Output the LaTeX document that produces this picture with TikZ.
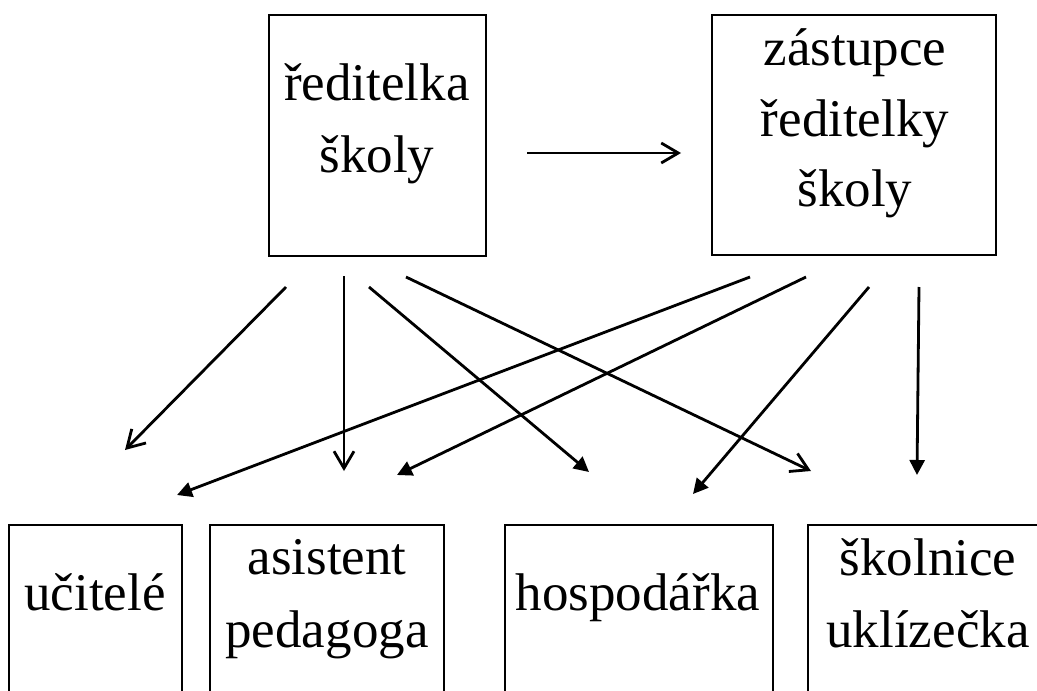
\documentclass[tikz,border=0pt]{standalone}
\usepackage{fontspec}
\setmainfont{Liberation Serif}
\usetikzlibrary{arrows.meta}
\begin{document}
\begin{tikzpicture}[x=1pt,y=-1pt,
  box/.style={draw, line width=2.8pt, inner sep=0pt, outer sep=0pt, anchor=north west},
  lbl/.style={anchor=base, inner sep=0pt, font=\fontsize{53}{72}\selectfont},
  conn/.style={line width=2.8pt},
  openhead/.style={conn, -{Straight Barb[length=17pt,width=20pt,line width=2.8pt]}},
  fillhead/.style={conn, -{Triangle[length=15pt,width=15pt]}}]
\useasboundingbox (0,0) rectangle (1037,691);
\clip (0,0) rectangle (1037,691);
% boxes
\node[box, minimum width=217pt, minimum height=241pt] (dir) at (269,15) {};
\node[box, minimum width=284pt, minimum height=240pt] (zast) at (712,15) {};
\node[box, minimum width=173pt, minimum height=200pt] (ucit) at (9,525) {};
\node[box, minimum width=234pt, minimum height=200pt] (asist) at (210,525) {};
\node[box, minimum width=268pt, minimum height=200pt] (hosp) at (505,525) {};
\node[box, minimum width=240pt, minimum height=200pt] (skol) at (808,525) {};
% labels
\node[lbl] (dirA) at (377,100) {ředitelka};
\node[lbl] (dirB) at (377,172) {školy};
\node[lbl] (zastA) at (855,65) {zástupce};
\node[lbl] (zastB) at (855,136) {ředitelky};
\node[lbl] (zastC) at (855,206) {školy};
\node[lbl] (ucitA) at (95,610) {učitelé};
\node[lbl] (asistA) at (327,574) {asistent};
\node[lbl] (asistB) at (327,647) {pedagoga};
\node[lbl] (hospA) at (638,610) {hospodářka};
\node[lbl] (skolA) at (928,575) {školnice};
\node[lbl] (skolB) at (928,647) {uklízečka};
% arrow end points
\coordinate (h0) at (527,153);  \coordinate (h1) at (681,153);
\coordinate (a1s) at (286,287); \coordinate (a1e) at (125,450);
\coordinate (a2s) at (344,276); \coordinate (a2e) at (344,471);
\coordinate (a3s) at (369,287); \coordinate (a3e) at (589,472);
\coordinate (a4s) at (406,277); \coordinate (a4e) at (811,471);
\coordinate (a5s) at (750,277); \coordinate (a5e) at (177,495);
\coordinate (a6s) at (806,277); \coordinate (a6e) at (397,475);
\coordinate (a7s) at (869,287); \coordinate (a7e) at (693,494);
\coordinate (a8s) at (919,287); \coordinate (a8e) at (917,475);
% connectors
\draw[openhead] (h0) -- (h1);
\draw[openhead] (a1s) -- (a1e);
\draw[openhead] (a2s) -- (a2e);
\draw[fillhead] (a3s) -- (a3e);
\draw[openhead] (a4s) -- (a4e);
\draw[fillhead] (a5s) -- (a5e);
\draw[fillhead] (a6s) -- (a6e);
\draw[fillhead] (a7s) -- (a7e);
\draw[fillhead] (a8s) -- (a8e);
\end{tikzpicture}
\end{document}
